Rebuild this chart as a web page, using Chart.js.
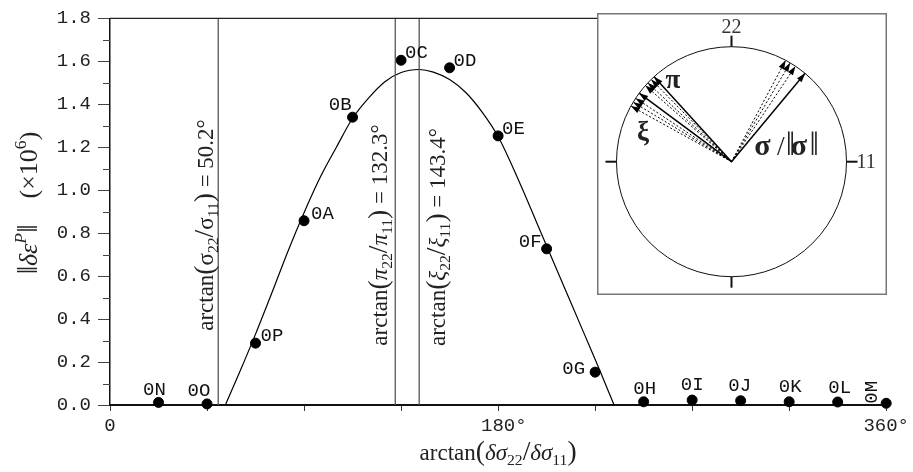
<!DOCTYPE html>
<html>
<head>
<meta charset="utf-8">
<script src="https://cdn.jsdelivr.net/npm/chart.js@4.4.0/dist/chart.umd.min.js"></script>
<style>
  body { margin: 0; background: #fff; }
  #wrap { position: relative; width: 913px; height: 472px; }
  #main { position: absolute; left: 0; top: 0; }
  #inset { position: absolute; left: 597px; top: 13px; }
</style>
</head>
<body>
<div id="wrap">
  <canvas id="main" width="913" height="472"></canvas>
  <canvas id="inset" width="290" height="282"></canvas>
</div>
<script>
/* data */

// measured points, every 22.5 deg
const pointAngles = [22.5, 45, 67.5, 90, 112.5, 135, 157.5, 180, 202.5, 225, 247.5, 270, 292.5, 315, 337.5, 360];
const pointValues = [0.012, 0.005, 0.288, 0.858, 1.340, 1.605, 1.570, 1.253, 0.727, 0.153, 0.015, 0.023, 0.020, 0.015, 0.014, 0.008];
const pointNames  = ['0N', '0O', '0P', '0A', '0B', '0C', '0D', '0E', '0F', '0G', '0H', '0I', '0J', '0K', '0L', '0M'];

// the smooth curve
const curveAngles = [53.5, 60, 67.5, 75, 82.5, 90, 97.5, 105, 112.5, 120, 127.5, 135, 143.4, 150, 157.5, 165, 172.5, 180, 190, 200, 210, 220, 227, 233.8];
const curveValues = [0, 0.15, 0.33, 0.52, 0.715, 0.895, 1.06, 1.20, 1.335, 1.43, 1.505, 1.548, 1.562, 1.550, 1.515, 1.455, 1.365, 1.25, 1.035, 0.80, 0.565, 0.33, 0.165, 0];

// vertical reference lines
const refAngles  = [50.2, 132.3, 143.4];
const refSymbols = ['σ', 'π', 'ξ'];

// x tick labels
const xTickLabels = { 0: '0', 180: ' 180°', 360: '360°' };

// inset directions (deg)
const sigmaAngle = 50.2, sigmaDotted = [56.2, 59.3, 61.9];
const piAngle = 132.3,   piDotted = [134.3, 136.7, 138.5];
const xiAngle = 143.4,   xiDotted = [146.5, 148.8, 151.1];

/* label placement (style only) */
const labelPos = [
  [-4, -7, 'center'], [-8, -8, 'center'], [5, -2, 'left'], [7, -2, 'left'],
  [-1, -7, 'right'], [4, -2, 'left'], [4, -2, 'left'], [4, -2, 'left'],
  [-5, -2, 'right'], [-10, 2, 'right'], [1, -8, 'center'], [0, -10, 'center'],
  [-1, -10, 'center'], [1, -10, 'center'], [2, -9, 'center'], [-9, -11, 'rot']
];

const SERIF = '"Liberation Serif", "DejaVu Serif", serif';
const MONO = '"Liberation Mono", "DejaVu Sans Mono", monospace';

// draws a run of text pieces, some sub/superscript
function partFont(p, size) {
  const s = (p.sub || p.sup) ? size * 0.68 : size * (p.k || 1);
  return (p.it ? 'italic ' : '') + (p.b ? 'bold ' : '') + s + 'px ' + SERIF;
}
function richWidth(ctx, parts, size) {
  let w = 0;
  parts.forEach(p => { ctx.font = partFont(p, size); w += ctx.measureText(p.t).width + (p.gap || 0); });
  return w;
}
function drawRich(ctx, parts, x, y, size) {
  let cx = x - richWidth(ctx, parts, size) / 2;
  parts.forEach(p => {
    ctx.font = partFont(p, size);
    let dy = 0;
    if (p.sub) dy = size * 0.22;
    if (p.sup) dy = -size * 0.42;
    ctx.fillText(p.t, cx, y + dy);
    cx += ctx.measureText(p.t).width + (p.gap || 0);
  });
}

function arctanParts(sym, value) {
  return [
    {t: 'arctan'}, {t: '(', k: 1.2}, {t: sym, it: sym !== 'σ'}, {t: '22', sub: true},
    {t: '/', k: 1.2}, {t: sym, it: sym !== 'σ'}, {t: '11', sub: true}, {t: ')', k: 1.2},
    {t: ' = ' + value + '°'}
  ];
}

const decor = {
  id: 'decor',
  afterDatasetsDraw(chart) {
    const ctx = chart.ctx, a = chart.chartArea;
    const xs = chart.scales.x, ys = chart.scales.y;
    ctx.save();
    // frame top
    ctx.strokeStyle = '#222'; ctx.lineWidth = 1.3;
    ctx.beginPath(); ctx.moveTo(a.left, a.top); ctx.lineTo(a.right, a.top); ctx.stroke();
    // minor y ticks
    ctx.strokeStyle = '#444'; ctx.lineWidth = 1;
    for (let v = 0.1; v < 1.8; v += 0.2) {
      const py = Math.round(ys.getPixelForValue(v)) + 0.5;
      ctx.beginPath(); ctx.moveTo(a.left - 7, py); ctx.lineTo(a.left, py); ctx.stroke();
    }
    // point names
    ctx.fillStyle = '#111';
    ctx.font = '19px ' + MONO;
    ctx.textBaseline = 'alphabetic';
    pointAngles.forEach((ang, i) => {
      const px = xs.getPixelForValue(ang), py = ys.getPixelForValue(pointValues[i]);
      const [dx, dy, al] = labelPos[i];
      if (al === 'rot') {
        ctx.save(); ctx.translate(px + dx, py + dy); ctx.rotate(-Math.PI / 2);
        ctx.textAlign = 'center'; ctx.fillText(pointNames[i], 0, 0); ctx.restore();
      } else {
        ctx.textAlign = al; ctx.fillText(pointNames[i], px + dx, py + dy);
      }
    });
    // rotated labels along reference lines
    ctx.textAlign = 'left';
    ctx.fillStyle = '#222';
    const refOff = [-5, -8, 26];
    const refMid = [225, 235, 237];
    refAngles.forEach((ang, i) => {
      const px = xs.getPixelForValue(ang);
      ctx.save(); ctx.translate(px + refOff[i], refMid[i]); ctx.rotate(-Math.PI / 2);
      drawRich(ctx, arctanParts(refSymbols[i], ang.toFixed(1)), 0, 0, 23);
      ctx.restore();
    });
    // x title
    drawRich(ctx, [
      {t: 'arctan'}, {t: '(', k: 1.2}, {t: 'δσ', it: true}, {t: '22', sub: true},
      {t: '/', k: 1.2}, {t: 'δσ', it: true}, {t: '11', sub: true}, {t: ')', k: 1.2}
    ], (a.left + a.right) / 2, 460, 23);
    // y title
    ctx.save(); ctx.translate(37, 203); ctx.rotate(-Math.PI / 2);
    drawRich(ctx, [
      {t: '‖', k: 1.15}, {t: 'δε', it: true}, {t: 'P', it: true, sup: true}, {t: '‖', k: 1.15},
      {t: '    (×10'}, {t: '6', sup: true}, {t: ')'}
    ], 0, 0, 26);
    ctx.restore();
    ctx.restore();
  }
};

const mainChart = new Chart(document.getElementById('main'), {
  type: 'scatter',
  data: {
    datasets: [
      ...refAngles.map(ang => ({
        type: 'line', data: [{x: ang, y: 0}, {x: ang, y: 1.8}],
        borderColor: '#555', borderWidth: 1.3, pointRadius: 0, fill: false
      })),
      {
        type: 'line',
        data: curveAngles.map((x, i) => ({x, y: curveValues[i]})),
        borderColor: '#000', borderWidth: 1.2, pointRadius: 0,
        cubicInterpolationMode: 'monotone', fill: false
      },
      {
        data: pointAngles.map((x, i) => ({x, y: pointValues[i]})),
        pointRadius: 5, backgroundColor: '#000', borderColor: '#000', clip: false
      }
    ]
  },
  options: {
    responsive: false,
    animation: false,
    layout: { padding: { top: 13, right: 26, left: 0, bottom: 0 } },
    plugins: { legend: { display: false }, tooltip: { enabled: false } },
    scales: {
      x: {
        type: 'linear', min: 0, max: 360,
        ticks: {
          stepSize: 45, autoSkip: false, maxRotation: 0, padding: 4,
          color: '#222', font: { family: MONO, size: 19 },
          callback: v => xTickLabels[v] || ''
        },
        grid: { drawOnChartArea: false, tickLength: 6, color: '#333', tickWidth: 1 },
        border: { color: '#111', width: 2 },
        afterFit(s) { s.height = 67; }
      },
      y: {
        min: 0, max: 1.8,
        ticks: {
          stepSize: 0.2, padding: 7, color: '#222', font: { family: MONO, size: 19 },
          callback: v => v.toFixed(1)
        },
        grid: { drawOnChartArea: false, tickLength: 12, color: '#444', tickWidth: 1 },
        border: { color: '#111', width: 1.5 },
        afterFit(s) { s.width = 110; }
      }
    }
  },
  plugins: [decor]
});

/* inset: unit circle with stress directions */
const arrowSets = [
  {ang: sigmaAngle, dotted: sigmaDotted},
  {ang: piAngle, dotted: piDotted},
  {ang: xiAngle, dotted: xiDotted}
];
const insetSets = [];
arrowSets.forEach(g => {
  g.dotted.forEach(d => insetSets.push({ang: d, dash: true}));
  insetSets.push({ang: g.ang, dash: false});
});
const rad = d => d * Math.PI / 180;

const insetDecor = {
  id: 'insetDecor',
  beforeDraw(chart) {
    const ctx = chart.ctx;
    ctx.save();
    ctx.fillStyle = '#fff';
    ctx.fillRect(0, 0, chart.width, chart.height);
    ctx.restore();
  },
  afterDatasetsDraw(chart) {
    const ctx = chart.ctx, xs = chart.scales.x, ys = chart.scales.y;
    const cx = xs.getPixelForValue(0), cy = ys.getPixelForValue(0);
    const r = xs.getPixelForValue(1) - cx;
    ctx.save();
    // box
    ctx.strokeStyle = '#777'; ctx.lineWidth = 1.5;
    ctx.strokeRect(0.75, 0.75, chart.width - 1.5, chart.height - 1.5);
    // circle
    ctx.strokeStyle = '#111'; ctx.lineWidth = 1;
    ctx.beginPath(); ctx.arc(cx, cy, r, 0, Math.PI * 2); ctx.stroke();
    // axis ticks
    ctx.lineWidth = 2;
    [[0, -1], [1, 0], [-1, 0], [0, 1]].forEach(([ux, uy]) => {
      ctx.beginPath();
      ctx.moveTo(cx + ux * r, cy + uy * r);
      ctx.lineTo(cx + ux * (r + 11), cy + uy * (r + 11));
      ctx.stroke();
    });
    ctx.fillStyle = '#333';
    ctx.font = '20px ' + SERIF;
    ctx.textAlign = 'center'; ctx.textBaseline = 'alphabetic';
    ctx.fillText('22', cx, cy - r - 14);
    ctx.textAlign = 'left'; ctx.textBaseline = 'middle';
    ctx.fillText('11', cx + r + 10, cy + 1);
    // arrowheads
    ctx.fillStyle = '#000';
    insetSets.forEach(s => {
      const th = rad(s.ang);
      const tx = xs.getPixelForValue(Math.cos(th)), ty = ys.getPixelForValue(Math.sin(th));
      const dx = Math.cos(th), dy = -Math.sin(th);
      const L = 9, W = 3;
      ctx.beginPath();
      ctx.moveTo(tx, ty);
      ctx.lineTo(tx - dx * L - dy * W, ty - dy * L + dx * W);
      ctx.lineTo(tx - dx * L + dy * W, ty - dy * L - dx * W);
      ctx.closePath(); ctx.fill();
    });
    // symbols
    ctx.fillStyle = '#222';
    ctx.textBaseline = 'middle'; ctx.textAlign = 'center';
    ctx.font = 'bold 27px ' + SERIF;
    ctx.fillText('π', xs.getPixelForValue(-0.51), ys.getPixelForValue(0.70));
    ctx.fillText('ξ', xs.getPixelForValue(-0.77), ys.getPixelForValue(0.25));
    ctx.textBaseline = 'alphabetic';
    drawRich(ctx, [
      {t: 'σ', b: true, k: 1.2, gap: 2}, {t: '/', k: 1.1, gap: 2}, {t: '‖', k: 1.35, gap: -1},
      {t: 'σ', b: true, k: 1.2, gap: -1}, {t: '‖', k: 1.35}
    ], xs.getPixelForValue(0.535), ys.getPixelForValue(0.145) + 10, 25);
    ctx.restore();
  }
};

const insetChart = new Chart(document.getElementById('inset'), {
  type: 'scatter',
  data: {
    datasets: insetSets.map(s => ({
      type: 'line',
      data: [{x: 0, y: 0}, {x: Math.cos(rad(s.ang)), y: Math.sin(rad(s.ang))}],
      borderColor: '#000', borderWidth: s.dash ? 1 : 1.5,
      borderDash: s.dash ? [2, 2] : [], pointRadius: 0, fill: false
    }))
  },
  options: {
    responsive: false,
    animation: false,
    layout: { padding: 0 },
    plugins: { legend: { display: false }, tooltip: { enabled: false } },
    scales: {
      x: { type: 'linear', display: false, min: -1.1696, max: 1.3522 },
      y: { type: 'linear', display: false, min: -1.159, max: 1.293 }
    }
  },
  plugins: [insetDecor]
});
</script>
</body>
</html>
